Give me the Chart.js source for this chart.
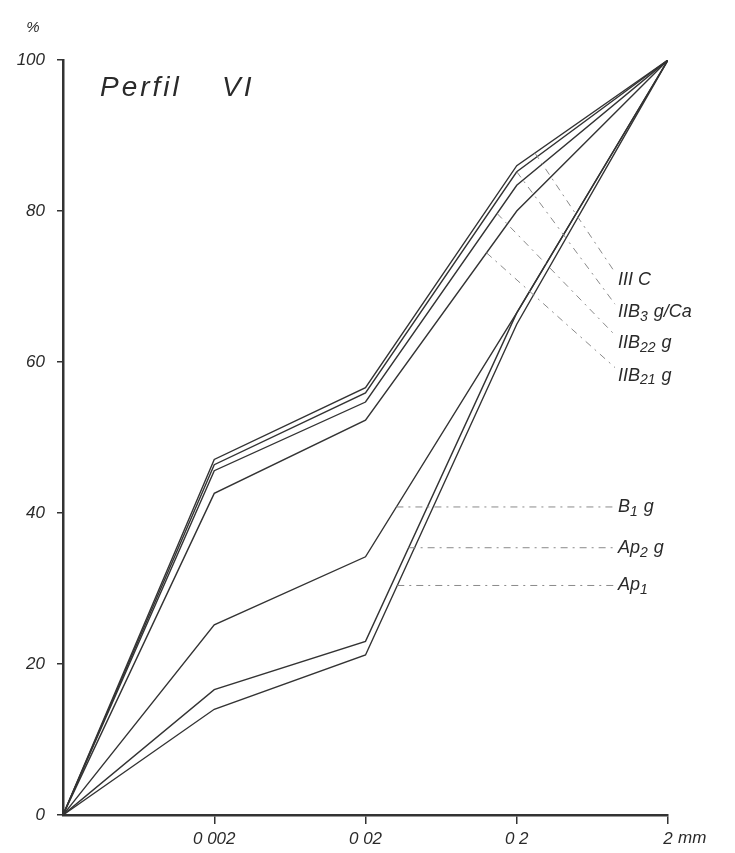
<!DOCTYPE html>
<html>
<head>
<meta charset="utf-8">
<script src="https://cdn.jsdelivr.net/npm/chart.js@4.4.0/dist/chart.umd.min.js"></script>
<style>
    html, body { margin: 0; background: #fff; }
    #pai-grafico { width: 735px; height: 853px; position: relative; }
</style>
</head>
<body>
<div id="pai-grafico"><canvas id="graficoPerfil"></canvas></div>
<script>
// posicoes no eixo x (0 = origem) e rotulos dos ticks
const posicoesX = [0, 1, 2, 3, 4];
const rotulosX = ['', '0 002', '0 02', '0 2', '2'];
const unidadeX = 'mm';
const ticksY = [0, 20, 40, 60, 80, 100];

// % acumulada por horizonte
const iiiC = [0, 47.1, 56.6, 86.0, 100];
const iiB3 = [0, 46.4, 55.9, 85.2, 100];
const iiB22 = [0, 45.6, 54.7, 83.4, 100];
const iiB21 = [0, 42.6, 52.3, 80.0, 100];
const b1 = [0, 25.2, 34.2, 66.5, 100];
const ap2 = [0, 16.6, 23.0, 66.5, 100];
const ap1 = [0, 14.0, 21.2, 65.0, 100];

const series = [iiiC, iiB3, iiB22, iiB21, b1, ap2, ap1];
const nomes = ['III C', 'IIB_3 g/Ca', 'IIB_22 g', 'IIB_21 g', 'B_1 g', 'Ap_2 g', 'Ap_1'];
// altura (em %) onde fica cada nome
const alturaNomes = [70.8, 66.6, 62.5, 58.2, 40.8, 35.4, 30.4];

const corLinha = '#333333';
const fonte = '"Liberation Sans", "DejaVu Sans", sans-serif';

function valorEm(serie, xv) {
    const i = Math.min(Math.floor(xv), serie.length - 2);
    const t = xv - i;
    return serie[i] + t * (serie[i + 1] - serie[i]);
}

function xEm(serie, v) {
    for (let i = 0; i < serie.length - 1; i++) {
        if (serie[i] <= v && v <= serie[i + 1]) {
            return i + (v - serie[i]) / (serie[i + 1] - serie[i]);
        }
    }
    return 0;
}

function escreverComIndice(ctx, texto, px, py) {
    const partes = texto.split(/_(\d+)/);
    let cx = px;
    partes.forEach(function (p, i) {
        if (i % 2 === 1) {
            ctx.font = 'italic 14px ' + fonte;
            ctx.fillText(p, cx, py + 5);
        } else {
            ctx.font = 'italic 18px ' + fonte;
            ctx.fillText(p, cx, py);
        }
        cx += ctx.measureText(p).width + (i % 2 === 1 ? 1 : 0);
    });
}

const anotacoes = {
    id: 'anotacoes',
    afterDatasetsDraw(chart) {
        const ctx = chart.ctx;
        const x = chart.scales.x;
        const y = chart.scales.y;
        ctx.save();

        // linhas de chamada
        const xNome = 618;
        const alvosX = [3.12, 3.0, 2.87, 2.8];
        ctx.strokeStyle = '#8a8a8a';
        ctx.lineWidth = 1;
        ctx.setLineDash([7, 5, 2, 5]);
        series.forEach(function (serie, i) {
            const yNome = y.getPixelForValue(alturaNomes[i]);
            ctx.beginPath();
            if (i < 4) {
                const xa = alvosX[i];
                ctx.moveTo(x.getPixelForValue(xa), y.getPixelForValue(valorEm(serie, xa)));
                ctx.lineTo(xNome - 3, yNome - 8);
            } else {
                const xa = xEm(serie, alturaNomes[i]);
                ctx.moveTo(x.getPixelForValue(xa), yNome);
                ctx.lineTo(xNome - 4, yNome);
            }
            ctx.stroke();
        });
        ctx.setLineDash([]);

        // nomes dos horizontes
        ctx.fillStyle = '#2a2a2a';
        ctx.textBaseline = 'middle';
        ctx.textAlign = 'left';
        nomes.forEach(function (nome, i) {
            escreverComIndice(ctx, nome, xNome, y.getPixelForValue(alturaNomes[i]));
        });

        // titulo
        ctx.font = 'italic 28px ' + fonte;
        ctx.textBaseline = 'alphabetic';
        ctx.letterSpacing = '3px';
        ctx.fillText('Perfil', 100, 96);
        ctx.fillText('VI', 222, 96);
        ctx.letterSpacing = '0px';

        // unidade dos eixos
        ctx.font = 'italic 15px ' + fonte;
        ctx.textAlign = 'center';
        ctx.fillText('%', 33, 32);
        const ultimo = x.getPixelForValue(posicoesX[posicoesX.length - 1]);
        ctx.textAlign = 'left';
        ctx.font = 'italic 17px ' + fonte;
        ctx.textBaseline = 'top';
        ctx.fillText(unidadeX, ultimo + 10, y.bottom + 15);
        ctx.restore();
    }
};

const ctx = document.getElementById('graficoPerfil').getContext('2d');

window.meuGrafico = new Chart(ctx, {
    type: 'line',
    data: {
        datasets: series.map(function (serie, i) {
            return {
                label: nomes[i],
                data: serie.map((v, j) => ({ x: posicoesX[j], y: v })),
                borderColor: corLinha,
                backgroundColor: corLinha,
                borderWidth: 1.4,
                pointRadius: 0,
                tension: 0,
                fill: false
            };
        })
    },
    options: {
        responsive: true,
        maintainAspectRatio: false,
        animation: false,
        layout: {
            padding: { top: 60, right: 67, left: 0, bottom: 0 }
        },
        scales: {
            x: {
                type: 'linear',
                min: 0,
                max: 4,
                afterBuildTicks: function (s) {
                    s.ticks = posicoesX.map(v => ({ value: v }));
                },
                afterFit: function (s) { s.height = 38; },
                ticks: {
                    callback: v => rotulosX[v],
                    color: '#2a2a2a',
                    font: { family: fonte, size: 17, style: 'italic' },
                    padding: 5,
                    maxRotation: 0,
                    autoSkip: false
                },
                grid: {
                    drawOnChartArea: false,
                    tickLength: 9,
                    lineWidth: 1.5,
                    color: c => (c.index === 0 ? 'rgba(0,0,0,0)' : corLinha)
                },
                border: { color: corLinha, width: 2.5 }
            },
            y: {
                min: 0,
                max: 100,
                afterBuildTicks: function (s) {
                    s.ticks = ticksY.map(v => ({ value: v }));
                },
                afterFit: function (s) { s.width = 63; },
                ticks: {
                    color: '#2a2a2a',
                    font: { family: fonte, size: 17, style: 'italic' },
                    padding: 12
                },
                grid: {
                    drawOnChartArea: false,
                    tickLength: 6,
                    lineWidth: 1.5,
                    color: corLinha
                },
                border: { color: corLinha, width: 2.5 }
            }
        },
        plugins: {
            legend: { display: false },
            tooltip: { enabled: false },
            title: { display: false }
        }
    },
    plugins: [anotacoes]
});
</script>
</body>
</html>
